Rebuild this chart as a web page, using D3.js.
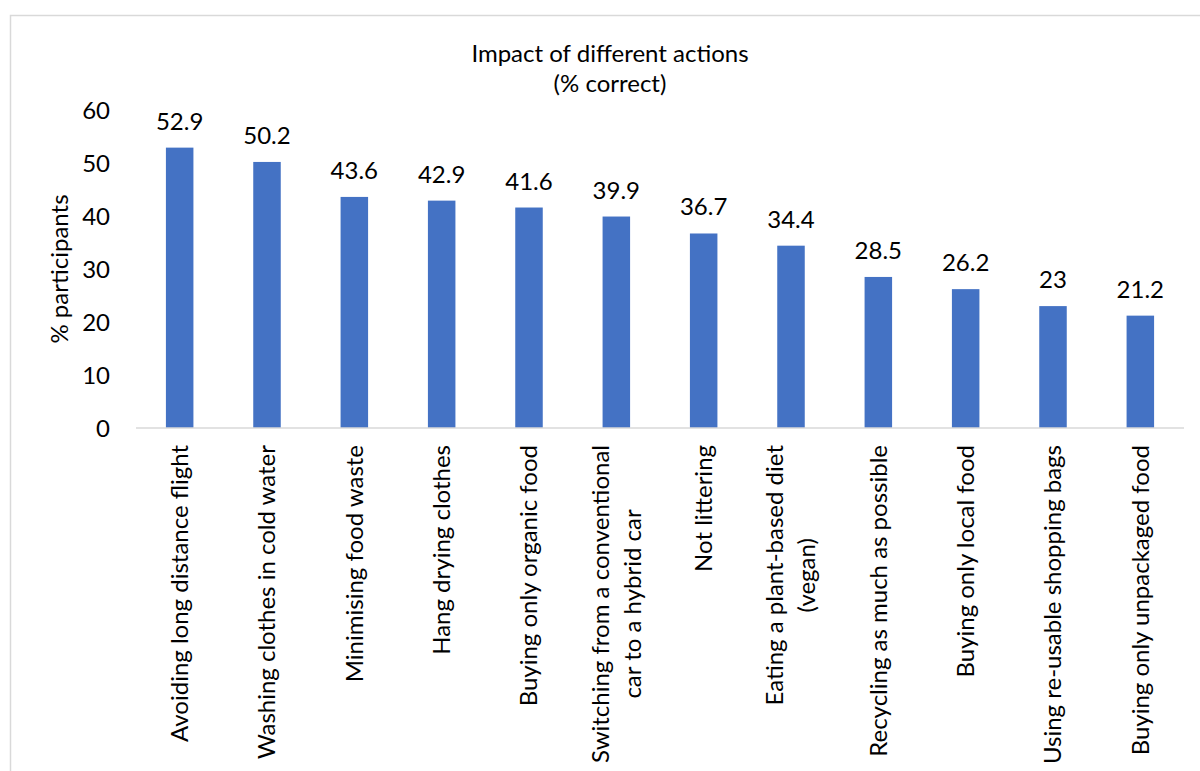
<!DOCTYPE html>
<html>
<head>
<meta charset="utf-8">
<title>Impact of different actions</title>
<style>
  body { margin: 0; background: #fff; }
  svg text { font-family: Lato, "Open Sans", sans-serif; fill: #000; }
</style>
</head>
<body>
<svg width="1200" height="771"></svg>
<script src="https://d3js.org/d3.v7.min.js"></script>
<script>
// chart data
var categories = [
  "Avoiding long distance flight",
  "Washing clothes in cold water",
  "Minimising food waste",
  "Hang drying clothes",
  "Buying only organic food",
  "Switching from a conventional\ncar to a hybrid car",
  "Not littering",
  "Eating a plant-based diet\n(vegan)",
  "Recycling as much as possible",
  "Buying only local food",
  "Using re-usable shopping bags",
  "Buying only unpackaged food"
];
var values = [52.9, 50.2, 43.6, 42.9, 41.6, 39.9, 36.7, 34.4, 28.5, 26.2, 23, 21.2];
var yTicks = [0, 10, 20, 30, 40, 50, 60];
var titleLines = ["Impact of different actions", "(% correct)"];
var yTitle = "% participants";

var fs = 24;
var svg = d3.select("svg");

// outer chart border (cut off at right and bottom like the picture)
svg.append("rect")
  .attr("x", 10.5).attr("y", 15.5)
  .attr("width", 1200).attr("height", 800)
  .style("fill", "none")
  .style("stroke", "#d9d9d9")
  .style("stroke-width", 1.5);

var x = d3.scaleBand()
  .domain(categories)
  .range([136, 1184])
  .paddingInner(0.685)
  .paddingOuter(0.3425);

var y = d3.scaleLinear().domain([0, 60]).range([428, 110]);

// title
svg.selectAll(".title")
  .data(titleLines)
  .enter()
  .append("text")
  .attr("class", "title")
  .attr("x", 610)
  .attr("y", function(d, i) { return 62 + i * 30; })
  .attr("text-anchor", "middle")
  .style("font-size", fs + "px")
  .text(function(d) { return d; });

// y axis (labels only)
var yAxis = svg.append("g")
  .attr("transform", "translate(136,0)")
  .call(d3.axisLeft(y).tickValues(yTicks).tickSize(0).tickPadding(26));
yAxis.select(".domain").remove();
yAxis.selectAll("text")
  .attr("dy", "0.35em")
  .style("font-family", "Lato, 'Open Sans', sans-serif")
  .style("font-size", fs + "px")
  .style("fill", "#000");

svg.append("text")
  .attr("transform", "translate(68," + ((y(0) + y(60)) / 2) + ") rotate(-90)")
  .attr("text-anchor", "middle")
  .style("font-size", fs + "px")
  .text(yTitle);

// bars
svg.selectAll(".bar")
  .data(values)
  .enter()
  .append("rect")
  .attr("class", "bar")
  .attr("x", function(d, i) { return x(categories[i]); })
  .attr("y", function(d) { return y(d); })
  .attr("width", x.bandwidth())
  .attr("height", function(d) { return y(0) - y(d); })
  .style("fill", "#4472C4");

// value labels
svg.selectAll(".val")
  .data(values)
  .enter()
  .append("text")
  .attr("class", "val")
  .attr("x", function(d, i) { return x(categories[i]) + x.bandwidth() / 2; })
  .attr("y", function(d) { return y(d) - 18; })
  .attr("text-anchor", "middle")
  .style("font-size", fs + "px")
  .text(function(d) { return d; });

// x axis line
svg.append("line")
  .attr("x1", 136).attr("x2", 1184)
  .attr("y1", y(0)).attr("y2", y(0))
  .style("stroke", "#d9d9d9")
  .style("stroke-width", 1.5);

// category labels, rotated, lines centred on each other
var lineGap = 32;
categories.forEach(function(c) {
  var lines = c.split("\n");
  var cx = x(c) + x.bandwidth() / 2;
  var g = svg.append("g")
    .attr("transform", "translate(" + cx + ",445) rotate(-90)");
  var texts = g.selectAll("text")
    .data(lines)
    .enter()
    .append("text")
    .attr("y", function(d, i) { return (i - (lines.length - 1) / 2) * lineGap; })
    .attr("dy", "0.35em")
    .style("font-size", fs + "px")
    .text(function(d) { return d; });
  var widths = [];
  texts.each(function() { widths.push(this.getComputedTextLength()); });
  var maxW = d3.max(widths);
  texts.attr("x", function(d, i) { return -(maxW + widths[i]) / 2; })
    .attr("text-anchor", "start");
});
</script>
</body>
</html>
